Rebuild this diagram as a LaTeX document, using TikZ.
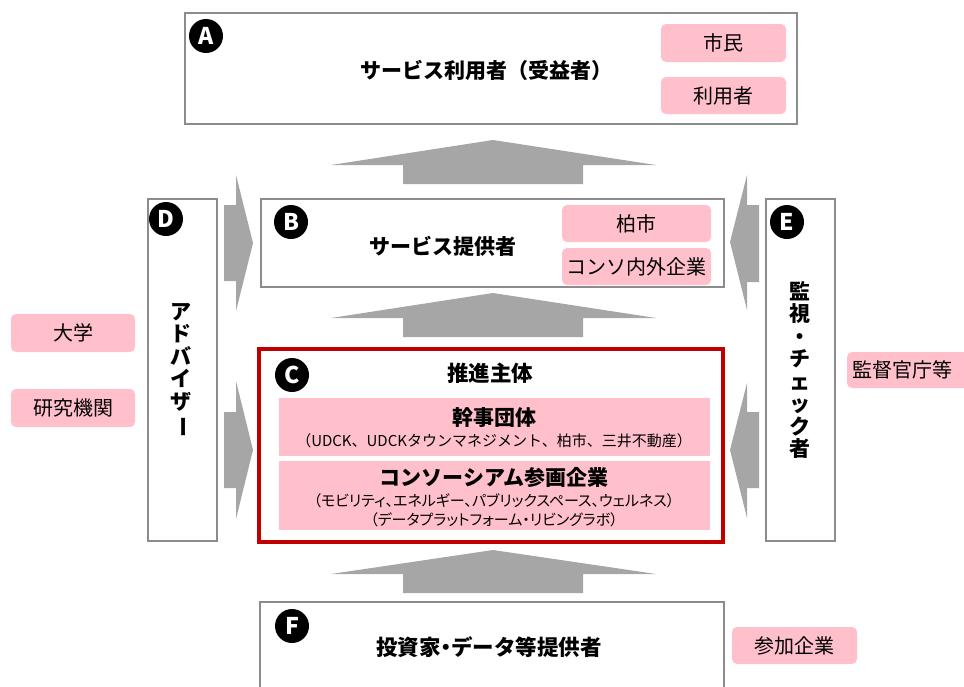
\documentclass[tikz,border=0pt]{standalone}
\usepackage{fontspec}
\usepackage{graphicx}
\setmainfont{Noto Sans CJK JP}
\newfontfamily\pjp{Noto Sans CJK JP}[RawFeature=+palt]
\definecolor{pinkfill}{HTML}{FFC0CB}
\definecolor{boxgray}{HTML}{8C8C8C}
\definecolor{arrgray}{HTML}{A6A6A6}
\definecolor{cred}{HTML}{C00000}
\newcommand{\fsz}[1]{\fontsize{#1}{#1}\selectfont}
\tikzset{
  frame/.style={draw=boxgray, line width=1.3pt, fill=white, inner sep=0pt},
  tag/.style={fill=pinkfill, rounded corners=5pt, inner sep=0pt, font=\fsz{20}},
  band/.style={fill=pinkfill, inner sep=0pt},
  badge/.style={circle, fill=black, text=white, font=\fsz{23}\bfseries, minimum size=34pt, inner sep=0pt},
  ttl/.style={font=\fsz{21}\bfseries, inner sep=0pt},
  sub/.style={font=\fsz{15}, inner sep=0pt},
  vtext/.style={font=\fontsize{21}{22.5}\selectfont\bfseries, align=center, inner sep=0pt},
  arr/.style={fill=arrgray}
}
\begin{document}
\begin{tikzpicture}[x=1pt,y=-1pt]
\useasboundingbox (0,0) rectangle (964,686);
\clip (0,0) rectangle (964,686);
% up arrows
\fill[arr] (493,140) -- (656,165) -- (583,165) -- (583,184) -- (403,184) -- (403,165) -- (331,165) -- cycle;
\fill[arr] (493,293) -- (656,318) -- (583,318) -- (583,337) -- (403,337) -- (403,318) -- (331,318) -- cycle;
\fill[arr] (493,550) -- (656,574) -- (583,574) -- (583,593) -- (403,593) -- (403,574) -- (331,574) -- cycle;
% left arrows (pointing right)
\fill[arr] (253,243) -- (236,311) -- (236,281) -- (224,281) -- (224,205) -- (236,205) -- (236,175) -- cycle;
\fill[arr] (253,450) -- (236,519) -- (236,488) -- (224,488) -- (224,412) -- (236,412) -- (236,381) -- cycle;
% right arrows (pointing left)
\fill[arr] (730,242) -- (747,310) -- (747,282) -- (759,282) -- (759,205) -- (747,205) -- (747,175) -- cycle;
\fill[arr] (730,450) -- (747,518) -- (747,488) -- (759,488) -- (759,412) -- (747,412) -- (747,383) -- cycle;

% A
\node[frame, minimum width=612pt, minimum height=111pt] (boxA) at (491,68.5) {};
\node[badge] (bA) at (206,36) {A};
\node[ttl] (tA) at (486,70) {サービス利用者（受益者）};
\node[tag, minimum width=125pt, minimum height=38pt] (shimin) at (723.5,43) {市民};
\node[tag, minimum width=125pt, minimum height=37pt] (riyou) at (723.5,95.5) {利用者};

% B
\node[frame, minimum width=463pt, minimum height=88pt] (boxB) at (492.5,243) {};
\node[badge] (bB) at (291,222) {B};
\node[ttl] (tB) at (443,246) {サービス提供者};
\node[tag, minimum width=149pt, minimum height=37pt] (kashiwa) at (636.5,223.5) {柏市};
\node[tag, minimum width=149pt, minimum height=37pt] (conso) at (636.5,266.5) {コンソ内外企業};

% C
\node[draw=cred, line width=3.5pt, fill=white, minimum width=464pt, minimum height=193pt, inner sep=0pt] (boxC) at (491,445.5) {};
\node[band, minimum width=431pt, minimum height=58pt] (kanji) at (494.5,427) {};
\node[band, minimum width=431pt, minimum height=69pt] (consoC) at (494.5,495.5) {};
\node[badge] (bC) at (292,375) {C};
\node[ttl, font=\fsz{21.5}\bfseries] (tC) at (490,373) {推進主体};
\node[ttl] (tK) at (494,418) {幹事団体};
\node[sub] (sK) at (494,441) {（UDCK、UDCKタウンマネジメント、柏市、三井不動産）};
\node[ttl] (tS) at (494,477) {コンソーシアム参画企業};
\node[sub, font=\fsz{15}\pjp] (sS1) at (494,501) {（モビリティ、エネルギー、パブリックスペース、ウェルネス）};
\node[sub, font=\fsz{15}\pjp] (sS2) at (494,520) {（データプラットフォーム・リビングラボ）};

% D
\node[frame, minimum width=69pt, minimum height=342pt] (boxD) at (182.5,370) {};
\node[badge] (bD) at (166,219) {D};
\node[vtext] (tD) at (181,370) {ア\\ド\\バ\\イ\\ザ\\\rotatebox[origin=c]{-90}{ー}};
\node[tag, minimum width=124pt, minimum height=38pt] (daigaku) at (73,333) {大学};
\node[tag, minimum width=124pt, minimum height=38pt] (kenkyu) at (73,408) {研究機関};

% E
\node[frame, minimum width=69pt, minimum height=342pt] (boxE) at (800.5,370) {};
\node[badge] (bE) at (787,222) {E};
\node[vtext] (tE) at (800,370) {監\\視\\・\\チ\\ェ\\ッ\\ク\\者};
\node[tag, minimum width=128pt, minimum height=36pt, text width=118pt, align=left] (kantoku) at (911,370) {監督官庁等};

% F
\coordinate (fBL) at (260,690);
\coordinate (fBR) at (724,690);
\draw[draw=boxgray, line width=1.3pt] (fBL) -- (260,602) -- (724,602) -- (fBR);
\node[badge] (bF) at (292,626) {F};
\node[ttl, font=\fsz{21.5}\bfseries] (tF) at (489,647) {投資家{\pjp ・}データ等提供者};
\node[tag, minimum width=125pt, minimum height=37pt] (sanka) at (794.5,645.5) {参加企業};
\end{tikzpicture}
\end{document}
